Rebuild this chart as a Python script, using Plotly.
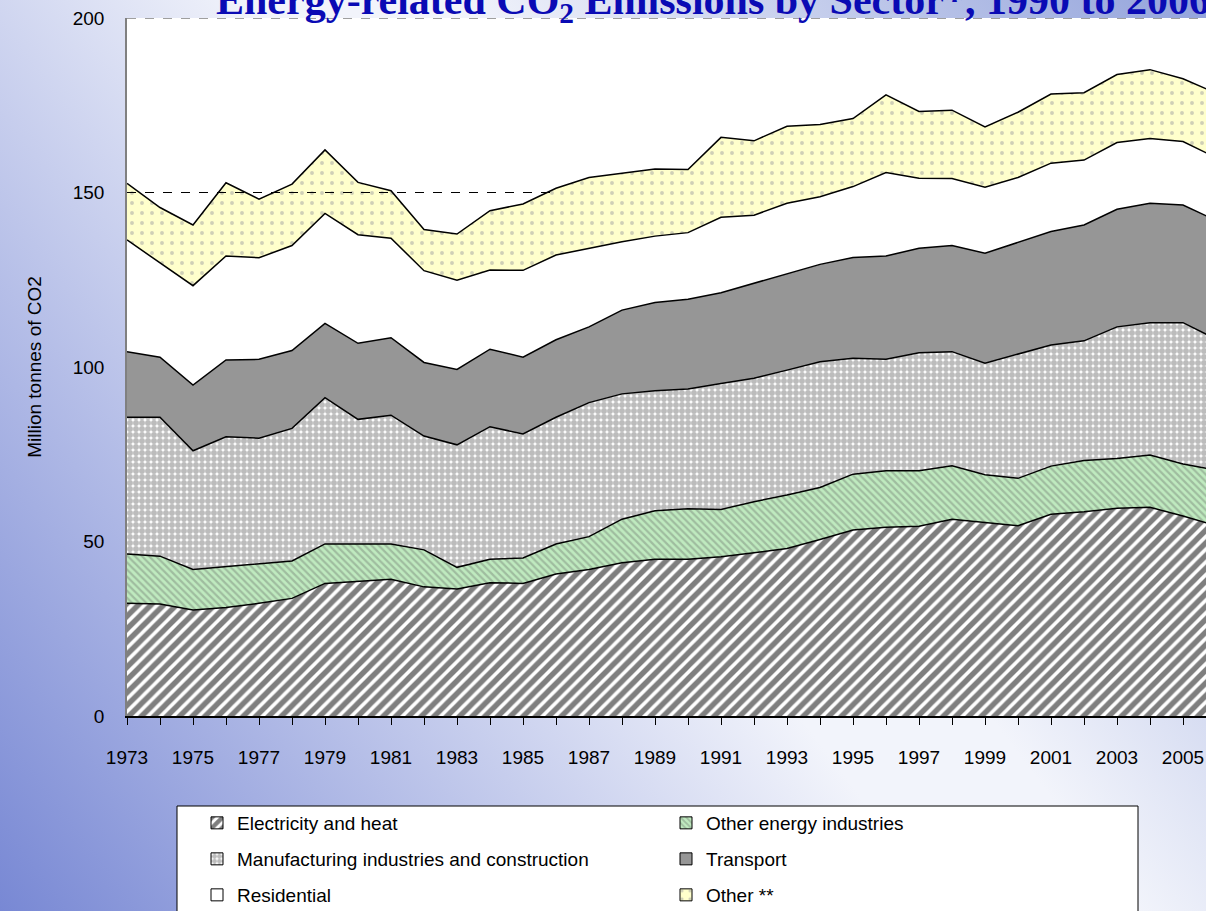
import plotly.graph_objects as go
import base64

# ---------------- data ----------------
years = list(range(1973, 2007))
electricity = [32.3, 32.1, 30.4, 31.1, 32.3, 33.7, 38.0, 38.7, 39.2, 37.0,
               36.4, 38.2, 38.0, 40.7, 42.0, 43.9, 44.9, 44.9, 45.6, 46.8,
               48.0, 50.6, 53.3, 54.1, 54.4, 56.4, 55.4, 54.5, 57.8, 58.5,
               59.5, 59.8, 57.3, 54.5]
other_energy = [14.1, 13.7, 11.6, 11.7, 11.5, 10.7, 11.3, 10.6, 10.1, 10.6,
                6.2, 6.7, 7.3, 8.6, 9.4, 12.5, 13.9, 14.5, 13.6, 14.6,
                15.3, 14.9, 16.0, 16.2, 15.9, 15.3, 13.7, 13.6, 13.8, 14.7,
                14.3, 15.0, 14.9, 16.0]
manufacturing = [39.2, 39.8, 34.0, 37.2, 35.8, 38.0, 41.9, 35.7, 36.9, 32.6,
                 35.1, 38.0, 35.5, 36.3, 38.4, 35.9, 34.4, 34.3, 36.1, 35.4,
                 35.8, 36.0, 33.2, 31.9, 33.8, 32.7, 32.0, 35.6, 34.7, 34.3,
                 37.7, 37.9, 40.5, 37.5]
transport = [18.8, 17.2, 18.8, 22.0, 22.6, 22.3, 21.3, 21.8, 22.2, 21.1,
             21.6, 22.2, 22.0, 22.2, 21.7, 24.0, 25.3, 25.7, 26.0, 27.2,
             27.5, 27.9, 28.9, 29.6, 29.9, 30.4, 31.5, 31.9, 32.5, 33.2,
             33.7, 34.2, 33.7, 34.0]
residential = [32.0, 27.1, 28.5, 29.8, 29.1, 30.1, 31.5, 31.1, 28.5, 26.3,
               25.6, 22.7, 24.9, 24.3, 22.5, 19.6, 19.0, 19.1, 21.6, 19.5,
               20.3, 19.4, 20.3, 23.9, 20.1, 19.2, 18.9, 18.7, 19.6, 18.6,
               19.1, 18.6, 18.2, 18.0]
other = [16.2, 15.8, 17.4, 21.0, 16.8, 17.6, 18.2, 15.0, 13.6, 11.8,
         13.2, 17.0, 19.0, 19.1, 20.3, 19.6, 19.2, 18.1, 22.9, 21.3,
         22.1, 20.7, 19.5, 22.3, 19.1, 19.6, 17.3, 18.7, 19.8, 19.3,
         19.5, 19.7, 18.0, 18.5]

series_names = ["Electricity and heat", "Other energy industries",
                "Manufacturing industries and construction", "Transport",
                "Residential", "Other **"]
ref_level = 150
ref_years = [1973, 1986]
y_ticks = [0, 50, 100, 150, 200]

title_text = "<b>Energy-related CO<sub>2</sub> Emissions by Sector*, 1990 to 2006</b>"
y_title = "Million tonnes of CO2"

# ---------------- geometry ----------------
W, H = 1206, 911
L, T, B = 127, 18, 716
PW, PH = W - L, B - T
X_END = 1973 + PW / 33.0


def px_x(p):
    return (p - L) / PW


def px_y(p):
    return (B - p) / PH


# ---------------- background gradient ----------------
svg = f'''<svg xmlns="http://www.w3.org/2000/svg" width="{W}" height="{H}" viewBox="0 0 {W} {H}" preserveAspectRatio="none">
<defs><linearGradient id="g" gradientUnits="userSpaceOnUse" x1="0" y1="{H}" x2="{W}" y2="0">
<stop offset="0" stop-color="#7888d4"/>
<stop offset="0.5" stop-color="#f2f4fb"/>
<stop offset="0.6" stop-color="#f2f4fb"/>
<stop offset="1" stop-color="#93a3db"/>
</linearGradient></defs>
<rect x="0" y="0" width="{W}" height="{H}" fill="url(#g)"/></svg>'''
bg_uri = "data:image/svg+xml;base64," + base64.b64encode(svg.encode()).decode()

# ---------------- styles ----------------
styles = [
    dict(color="white", pattern=dict(shape="/", fgcolor="black", bgcolor="white", size=9, solidity=0.6), legend="legend"),
    dict(color="#bfeabf", pattern=dict(shape="\\", fgcolor="#7f8f7f", bgcolor="#bfeabf", size=5, solidity=0.45), legend="legend"),
    dict(color="white", pattern=dict(shape=".", fgcolor="#7a7a7a", bgcolor="white", size=6, solidity=0.75), legend="legend2"),
    dict(color="#969696", pattern=None, legend="legend2"),
    dict(color="white", pattern=None, legend="legend3"),
    dict(color="#ffffcc", pattern=dict(shape=".", fgcolor="#a0a0a0", bgcolor="#ffffcc", size=10, solidity=0.12), legend="legend3"),
]
values = [electricity, other_energy, manufacturing, transport, residential, other]

fig = go.Figure()
for name, vals, st in zip(series_names, values, styles):
    kw = dict(x=years, y=vals, name=name, mode="lines", stackgroup="one",
              line=dict(color="black", width=1.5), fillcolor=st["color"],
              showlegend=False, hoverinfo="x+y+name")
    if st["pattern"] is not None:
        kw["fillpattern"] = st["pattern"]
    fig.add_trace(go.Scatter(**kw))

# legend entries (square swatches like the original)
for name, st in zip(series_names, styles):
    marker = dict(color=st["color"], line=dict(color="black", width=1))
    if st["pattern"] is not None:
        marker["pattern"] = st["pattern"]
    fig.add_trace(go.Bar(x=[None], y=[None], name=name, marker=marker,
                         legend=st["legend"], showlegend=True, hoverinfo="skip"))

legend_font = dict(family="Liberation Sans, Arial", size=19, color="black")
leg_common = dict(orientation="h", xref="container", yref="container", xanchor="left", yanchor="middle",
                  bgcolor="rgba(0,0,0,0)", borderwidth=0, font=legend_font,
                  entrywidth=424, entrywidthmode="pixels", itemwidth=30, traceorder="normal")

fig.update_layout(
    width=W, height=H,
    margin=dict(l=L, r=0, t=T, b=H - B, pad=0, autoexpand=False),
    paper_bgcolor="rgba(0,0,0,0)",
    plot_bgcolor="white",
    showlegend=True,
    legend=dict(leg_common, x=197 / W, y=1 - 823 / H),
    legend2=dict(leg_common, x=197 / W, y=1 - 859 / H),
    legend3=dict(leg_common, x=197 / W, y=1 - 895 / H),
    images=[dict(source=bg_uri, xref="paper", yref="paper", x=px_x(0), y=px_y(0),
                 sizex=W / PW, sizey=H / PH, xanchor="left", yanchor="top",
                 sizing="stretch", layer="below")],
    shapes=[
        dict(type="rect", xref="paper", yref="paper", x0=0, x1=1, y0=0, y1=1,
             fillcolor="white", line=dict(width=0), layer="below"),
        dict(type="line", xref="paper", yref="y", x0=0, x1=1, y0=200, y1=200,
             line=dict(color="#808080", width=1.5, dash="dash"), layer="above"),
        dict(type="line", xref="x", yref="y", x0=ref_years[0], x1=ref_years[1], y0=ref_level, y1=ref_level,
             line=dict(color="black", width=1, dash="dash"), layer="above"),
        dict(type="rect", xref="paper", yref="paper", x0=px_x(177), x1=px_x(1138), y0=px_y(940), y1=px_y(806),
             fillcolor="white", line=dict(color="black", width=1), layer="above"),
    ],
    annotations=[
        dict(text=title_text, xref="paper", yref="paper", x=px_x(214), y=px_y(31),
             xanchor="left", yanchor="bottom", showarrow=False,
             font=dict(family="Liberation Serif, Times New Roman, serif", size=42, color="#0a0ab4")),
    ],
    xaxis=dict(range=[1973, X_END], tickmode="linear", tick0=1973, dtick=2, automargin=False,
               ticks="outside", ticklen=7, tickwidth=1, tickcolor="black",
               minor=dict(tickmode="linear", tick0=1973, dtick=1, ticks="outside", ticklen=7, tickcolor="black"),
               showgrid=False, zeroline=False, showline=True, linecolor="black", linewidth=2,
               tickfont=dict(family="Liberation Sans, Arial", size=19, color="black"),
               ticklabelstandoff=16),
    yaxis=dict(range=[0, 200], tickmode="array", tickvals=y_ticks, automargin=False,
               ticks="", showgrid=False, zeroline=False, showline=True, linecolor="#808080", linewidth=1.5,
               tickfont=dict(family="Liberation Sans, Arial", size=19, color="black"),
               ticklabelstandoff=17,
               title=dict(text=y_title, standoff=26,
                          font=dict(family="Liberation Sans, Arial", size=19, color="black"))),
)

fig.write_html("out.html", config={"displayModeBar": False},
               post_script="document.body.style.margin='0';document.body.style.overflow='hidden';")
